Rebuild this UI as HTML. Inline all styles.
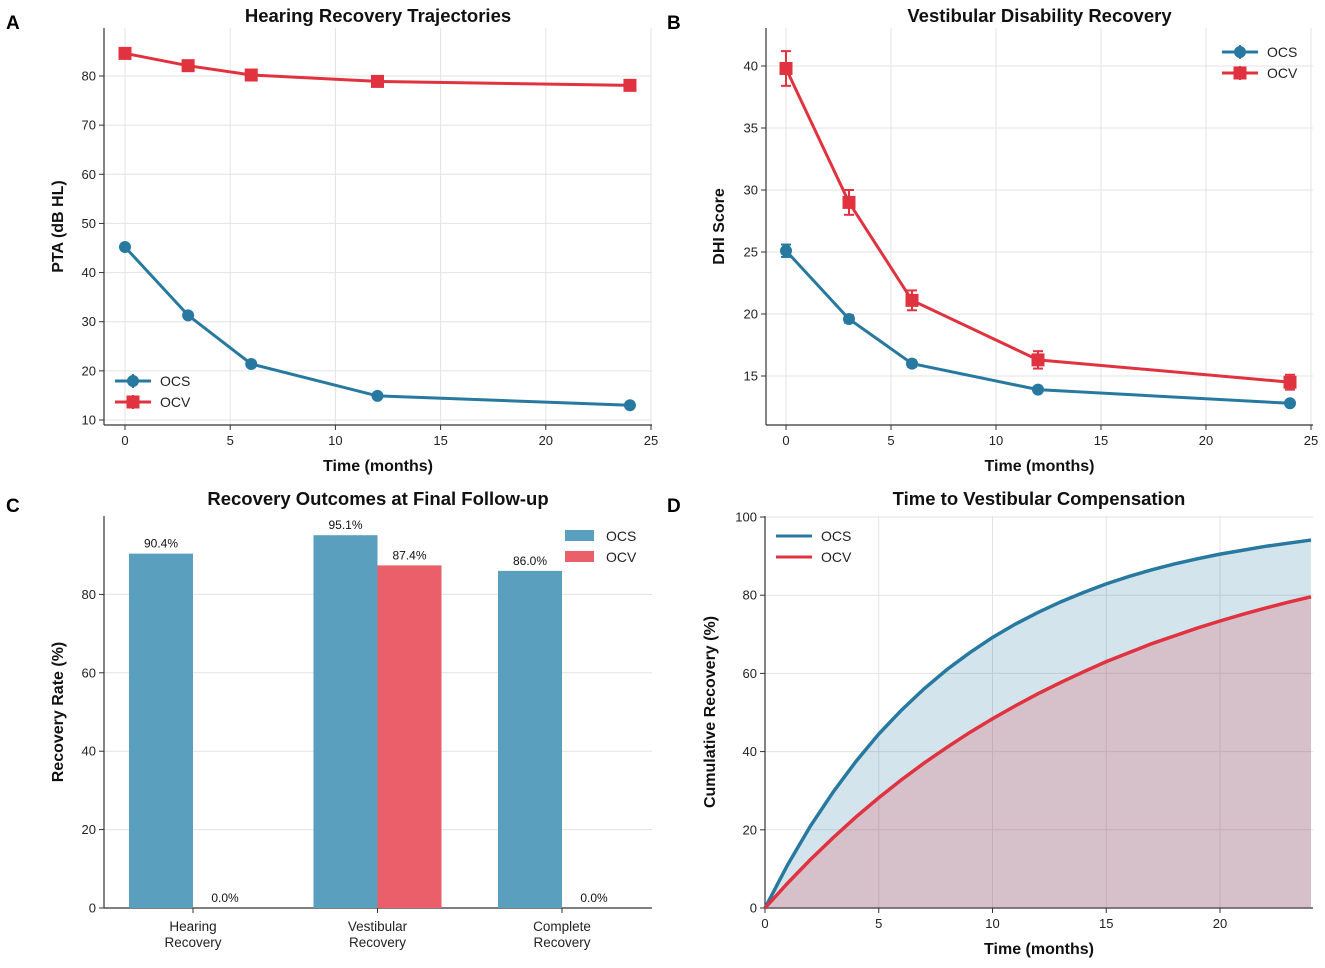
<!DOCTYPE html>
<html><head><meta charset="utf-8"><style>
html,body{margin:0;padding:0;background:#fff}
svg text{font-family:"Liberation Sans",Arial,sans-serif}
</style></head><body>
<svg id="fig" width="1325" height="963" viewBox="0 0 1325 963" xmlns="http://www.w3.org/2000/svg"></svg>
<script>
// ---- Data ----
const timesAB = [0, 3, 6, 12, 24];
const hearingOCS = [45.2, 31.3, 21.4, 14.9, 13.0];
const hearingOCV = [84.6, 82.1, 80.2, 78.9, 78.1];
const hearingErrOCS = [0.4, 0.4, 0.4, 0.3, 0.3];
const hearingErrOCV = [0.5, 0.5, 0.4, 0.4, 0.4];
const dhiOCS = [25.1, 19.6, 16.0, 13.9, 12.8];
const dhiOCV = [39.8, 29.0, 21.1, 16.3, 14.5];
const dhiErrOCS = [0.5, 0.3, 0.25, 0.2, 0.2];
const dhiErrOCV = [1.4, 1.0, 0.8, 0.7, 0.6];
const outcomeCats = [["Hearing","Recovery"],["Vestibular","Recovery"],["Complete","Recovery"]];
const outcomeOCS = [90.4, 95.1, 86.0];
const outcomeOCV = [0.0, 87.4, 0.0];
const compTimes = [0,1,2,3,4,5,6,7,8,9,10,11,12,13,14,15,16,17,18,19,20,21,22,23,24];
const compOCS = [0,11.1,21.0,29.7,37.5,44.5,50.6,56.1,61.0,65.3,69.2,72.6,75.6,78.3,80.7,82.9,84.8,86.5,88.0,89.3,90.5,91.5,92.5,93.3,94.1];
const compOCV = [0,6.4,12.4,18.0,23.3,28.2,32.8,37.1,41.1,44.9,48.4,51.7,54.8,57.7,60.4,63.0,65.3,67.6,69.6,71.6,73.4,75.1,76.7,78.2,79.6];
const xTicksAB = [0,5,10,15,20,25];
const yTicksA = [10,20,30,40,50,60,70,80];
const yTicksB = [15,20,25,30,35,40];
const yTicksC = [0,20,40,60,80];
const xTicksD = [0,5,10,15,20];
const yTicksD = [0,20,40,60,80,100];

const BLUE="#2779a0", RED="#e0323f";
const svg=document.getElementById('fig');
const NS="http://www.w3.org/2000/svg";
function el(tag,attrs,parent,text){const e=document.createElementNS(NS,tag);for(const k in attrs)e.setAttribute(k,attrs[k]);if(text!==undefined)e.textContent=text;(parent||svg).appendChild(e);return e;}
function lin(d0,d1,r0,r1){return v=>r0+(v-d0)*(r1-r0)/(d1-d0);}

function axes(g,L,R,T,B,xs,ys,xt,yt,xgrid,title,xlabel,ylabel,ylx,ty){
  yt.forEach(v=>{const y=ys(v);
    const gl=el('line',{x1:L,x2:R,y1:y,y2:y,stroke:'#e3e3e3','stroke-width':1},g);
    
    el('line',{x1:L-5,x2:L,y1:y,y2:y,stroke:'#333'},g);
    const t=el('text',{x:L-8,y:y+4.5,'text-anchor':'end','font-size':13,fill:'#222'},g,v);
    });
  if(xt) xt.forEach(v=>{const x=xs(v);
    if(xgrid){const gl=el('line',{x1:x,x2:x,y1:T,y2:B,stroke:'#e3e3e3'},g);}
    el('line',{x1:x,x2:x,y1:B,y2:B+5,stroke:'#333'},g);
    const t=el('text',{x:x,y:B+20,'text-anchor':'middle','font-size':13,fill:'#222'},g,v);
    });
  el('line',{x1:L,x2:L,y1:T,y2:B,stroke:'#333','stroke-width':1.2},g);
  el('line',{x1:L,x2:R,y1:B,y2:B,stroke:'#333','stroke-width':1.2},g);
  const tt=el('text',{x:(L+R)/2,y:ty,'text-anchor':'middle','font-size':18.5,'font-weight':'bold',fill:'#111'},g,title);
  
  if(xlabel){const xl=el('text',{x:(L+R)/2,y:B+46,'text-anchor':'middle','font-size':16,'font-weight':'bold',fill:'#111'},g,xlabel);
    }
  const yl=el('text',{x:ylx,y:(T+B)/2,'text-anchor':'middle','font-size':16,'font-weight':'bold',fill:'#111',transform:`rotate(-90 ${ylx} ${(T+B)/2})`},g,ylabel);
  
}
function marker(g,x,y,c,sq){
  if(sq) return el('rect',{x:x-6.5,y:y-6.5,width:13,height:13,fill:c},g);
  return el('circle',{cx:x,cy:y,r:6,fill:c},g);
}
function series(g,xs,ys,xv,yv,ev,c,sq,name){
  const s=el('g',{},g);
  el('polyline',{points:xv.map((x,i)=>xs(x)+','+ys(yv[i])).join(' '),fill:'none',stroke:c,'stroke-width':3},s);
  xv.forEach((x,i)=>{const X=xs(x),y1=ys(yv[i]-ev[i]),y2=ys(yv[i]+ev[i]);
    el('line',{x1:X,x2:X,y1:y1,y2:y2,stroke:c,'stroke-width':2},s);
    el('line',{x1:X-5,x2:X+5,y1:y1,y2:y1,stroke:c,'stroke-width':2},s);
    el('line',{x1:X-5,x2:X+5,y1:y2,y2:y2,stroke:c,'stroke-width':2},s);
    const m=marker(s,X,ys(yv[i]),c,sq);});
}
function lineLegend(g,x,y,items){
  items.forEach((it,i)=>{const yy=y+i*21;const e=el('g',{},g);
    
    el('line',{x1:x,x2:x+36,y1:yy,y2:yy,stroke:it.c,'stroke-width':3},e);
    if(it.m!==undefined){marker(e,x+18,yy,it.c,it.m);el('line',{x1:x+18,x2:x+18,y1:yy-7,y2:yy+7,stroke:it.c,'stroke-width':2},e);}
    el('text',{x:x+45,y:yy+5,'font-size':14,fill:'#222'},e,it.t);});
}
function letter(x,y,t){const e=el('text',{x:x,y:y,'font-size':19,'font-weight':'bold',fill:'#000'},svg,t);}

// Panel A
{const g=el('g',{});
 const L=104,R=652,T=28,B=425;const xs=lin(0,25,125,651),ys=lin(10,80,420,76);
 axes(g,L,R,T,B,xs,ys,xTicksAB,yTicksA,true,'Hearing Recovery Trajectories','Time (months)','PTA (dB HL)',63,22);
 series(g,xs,ys,timesAB,hearingOCS,hearingErrOCS,BLUE,false,'ocs-hearing-line');
 series(g,xs,ys,timesAB,hearingOCV,hearingErrOCV,RED,true,'ocv-hearing-line');
 lineLegend(g,115,381,[{c:BLUE,t:'OCS',m:false},{c:RED,t:'OCV',m:true}]);}
// Panel B
{const g=el('g',{});
 const L=766,R=1313,T=28,B=425;const xs=lin(0,25,786,1311),ys=lin(15,40,376,66);
 axes(g,L,R,T,B,xs,ys,xTicksAB,yTicksB,true,'Vestibular Disability Recovery','Time (months)','DHI Score',724,22);
 series(g,xs,ys,timesAB,dhiOCS,dhiErrOCS,BLUE,false,'ocs-dhi-line');
 series(g,xs,ys,timesAB,dhiOCV,dhiErrOCV,RED,true,'ocv-dhi-line');
 lineLegend(g,1222,52,[{c:BLUE,t:'OCS',m:false},{c:RED,t:'OCV',m:true}]);}
// Panel C
{const g=el('g',{});
 const L=104,R=652,T=516,B=908;const ys=lin(0,100,908,516);
 const cx=i=>193+i*184.5;const bw=64;
 axes(g,L,R,T,B,null,ys,null,yTicksC,false,'Recovery Outcomes at Final Follow-up','','Recovery Rate (%)',63,505);
 outcomeCats.forEach((c,i)=>{
  el('line',{x1:cx(i),x2:cx(i),y1:B,y2:B+5,stroke:'#333'},g);
  const t=el('text',{x:cx(i),y:B+23,'text-anchor':'middle','font-size':13.5,fill:'#222'},g,c[0]);
  el('text',{x:cx(i),y:B+39,'text-anchor':'middle','font-size':13.5,fill:'#222'},g,c[1]);
  [[outcomeOCS,'#5a9fbe',-1,'ocs'],[outcomeOCV,'#ea5f6a',0,'ocv']].forEach(([arr,col,off,n])=>{
   const v=arr[i],x=cx(i)+off*bw;
   const r=el('rect',{x:x,y:ys(v),width:bw,height:B-ys(v),fill:col},g);
   
   el('text',{x:x+bw/2,y:ys(v)-6,'text-anchor':'middle','font-size':12,fill:'#111'},g,v.toFixed(1)+'%');});});
 [['#5a9fbe','OCS'],['#ea5f6a','OCV']].forEach((it,i)=>{const e=el('g',{},g);
  el('rect',{x:565,y:530+i*21,width:29,height:11,fill:it[0]},e);
  el('text',{x:606,y:541+i*21,'font-size':14,fill:'#222'},e,it[1]);});}
// Panel D
{const g=el('g',{});
 const L=765,R=1313,T=516,B=908;const xs=lin(0,24,765,1311),ys=lin(0,100,908,517);
 axes(g,L,R,T,B,xs,ys,xTicksD,yTicksD,true,'Time to Vestibular Compensation','Time (months)','Cumulative Recovery (%)',715,505);
 const pts=a=>compTimes.map((t,i)=>xs(t)+','+ys(a[i])).join(' ');
 const base=`${xs(compTimes[compTimes.length-1])},${ys(0)} ${xs(0)},${ys(0)}`;
 const f1=el('polygon',{points:pts(compOCS)+' '+base,fill:'#2779a0','fill-opacity':0.2},g);
 const f2=el('polygon',{points:pts(compOCV)+' '+base,fill:'#e0323f','fill-opacity':0.2},g);
 const l1=el('polyline',{points:pts(compOCS),fill:'none',stroke:BLUE,'stroke-width':3.5},g);
 const l2=el('polyline',{points:pts(compOCV),fill:'none',stroke:RED,'stroke-width':3.5},g);
 lineLegend(g,776,536,[{c:BLUE,t:'OCS'},{c:RED,t:'OCV'}]);}
letter(6,29,'A');letter(667,29,'B');letter(6,512,'C');letter(667,512,'D');
</script>
</body></html>
